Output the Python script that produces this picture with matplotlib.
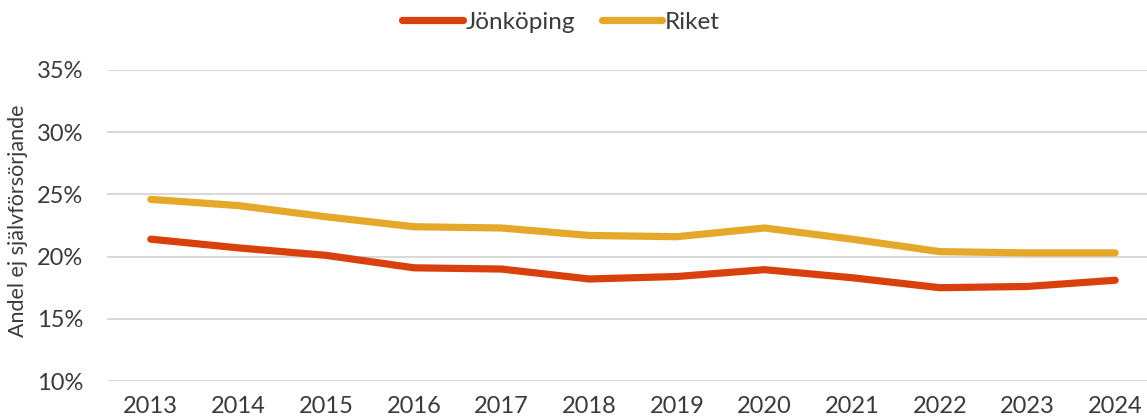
import matplotlib
matplotlib.use("Agg")
import matplotlib.pyplot as plt
from matplotlib.ticker import PercentFormatter

years = [2013, 2014, 2015, 2016, 2017, 2018, 2019, 2020, 2021, 2022, 2023, 2024]
jonkoping = [21.4, 20.7, 20.1, 19.1, 19.0, 18.2, 18.4, 18.95, 18.3, 17.5, 17.6, 18.1]
riket = [24.6, 24.1, 23.2, 22.4, 22.3, 21.7, 21.6, 22.3, 21.4, 20.4, 20.3, 20.3]

plt.rcParams["font.family"] = ["Lato", "DejaVu Sans"]
text_col = "#3a3a3a"

fig = plt.figure(figsize=(11.47, 4.2), dpi=100)
ax = fig.add_axes([107 / 1147, 39 / 420, 1052 / 1147, 311 / 420])

ax.plot(years, jonkoping, color="#d9400e", lw=5.2, solid_capstyle="round",
        solid_joinstyle="round", label="Jönköping", zorder=3)
ax.plot(years, riket, color="#e6a82a", lw=5.2, solid_capstyle="round",
        solid_joinstyle="round", label="Riket", zorder=3)

ax.set_xlim(2012.5, 2024.5)
ax.set_ylim(10, 35)
ax.set_yticks(range(10, 36, 5))
ax.set_xticks(years)
ax.yaxis.set_major_formatter(PercentFormatter(decimals=0))
ax.grid(axis="y", color="#d9d9d9", lw=1.5)
ax.set_axisbelow(True)
for s in ax.spines.values():
    s.set_visible(False)
ax.tick_params(length=0, labelsize=17, labelcolor=text_col)
ax.tick_params(axis="y", pad=17)
ax.tick_params(axis="x", pad=11)

fig.text(18 / 1147, 1 - 221 / 420, "Andel ej självförsörjande", rotation=90,
         ha="center", va="center", fontsize=15.5, color=text_col)

fig.legend(loc="center", bbox_to_anchor=(561 / 1147, 1 - 22 / 420),
           ncol=2, frameon=False, handlelength=2.5,
           handletextpad=0.1, columnspacing=1.1, labelcolor=text_col,
           prop={"size": 17.5})

fig.savefig("out.png", dpi=100)
